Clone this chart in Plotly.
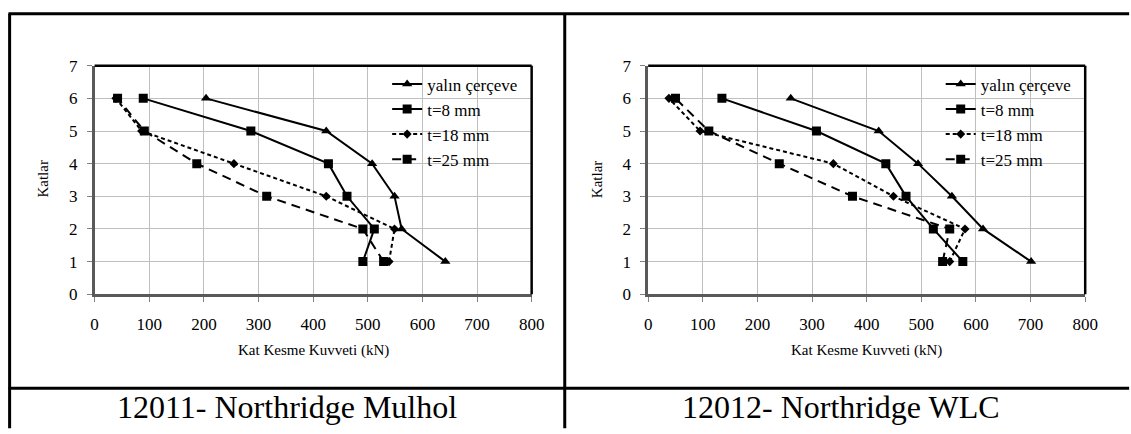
import plotly.graph_objects as go

storeys = [1, 2, 3, 4, 5, 6]
series_names = ["yalın çerçeve", "t=8 mm", "t=18 mm", "t=25 mm"]

# 12011 - Northridge Mulhol (kN)
mulhol_bare = [642, 562, 549, 508, 424, 204]
mulhol_t8 = [491, 512, 462, 428, 286, 89]
mulhol_t18 = [539, 549, 424, 255, 86, 39]
mulhol_t25 = [529, 491, 315, 187, 91, 42]

# 12012 - Northridge WLC (kN)
wlc_bare = [701, 613, 556, 494, 422, 261]
wlc_t8 = [576, 522, 472, 435, 308, 135]
wlc_t18 = [552, 580, 449, 339, 95, 38]
wlc_t25 = [539, 552, 374, 240, 111, 50]

captions = ["12011- Northridge Mulhol", "12012- Northridge WLC"]
x_title = "Kat Kesme Kuvveti (kN)"
y_title = "Katlar"
x_ticks = [0, 100, 200, 300, 400, 500, 600, 700, 800]
y_ticks = [0, 1, 2, 3, 4, 5, 6, 7]

W, H = 1131, 434
FONT = "Liberation Serif"

styles = [
    dict(dash="solid", symbol="triangle-up", size=9),
    dict(dash="solid", symbol="square", size=9),
    dict(dash="4px,3px", symbol="diamond", size=7),
    dict(dash="9px,6px", symbol="square", size=9),
]

fig = go.Figure()

panels = [
    ([mulhol_bare, mulhol_t8, mulhol_t18, mulhol_t25], "x", "y", "legend"),
    ([wlc_bare, wlc_t8, wlc_t18, wlc_t25], "x2", "y2", "legend2"),
]
for data, xa, ya, leg in panels:
    for name, vals, st in zip(series_names, data, styles):
        fig.add_trace(go.Scatter(
            x=vals, y=storeys, name=name, mode="lines+markers",
            xaxis=xa, yaxis=ya, legend=leg,
            line=dict(color="black", width=2, dash=st["dash"]),
            marker=dict(color="black", symbol=st["symbol"], size=st["size"], line=dict(width=0)),
        ))

def px_x(p):
    return p / W

def px_y(p):
    return (H - p) / H

y_dom = [px_y(298.3), px_y(59.3)]
x_doms = [[px_x(92), px_x(535.7)], [px_x(654), px_x(1097.7)]]

axis_common = dict(
    showgrid=True, gridcolor="#bfbfbf", gridwidth=1, zeroline=False,
    showline=True, linecolor="#595959", linewidth=2.5,
    ticks="outside", ticklen=5, tickcolor="#808080", tickwidth=1,
    tickfont=dict(family=FONT, size=17, color="black"),
)

layout = dict(
    width=W, height=H, margin=dict(l=0, r=0, t=0, b=0),
    paper_bgcolor="white", plot_bgcolor="white",
    font=dict(family=FONT, color="black"),
)
for i, (xd) in enumerate(x_doms):
    sfx = "" if i == 0 else "2"
    layout["xaxis" + sfx] = dict(axis_common, domain=xd, range=[0, 800], tickvals=x_ticks,
                                 anchor="y" + sfx, ticklabelstandoff=8)
    layout["yaxis" + sfx] = dict(axis_common, domain=y_dom, range=[0, 7], tickvals=y_ticks,
                                 anchor="x" + sfx, ticklabelstandoff=6)

leg_common = dict(
    bgcolor="rgba(0,0,0,0)", borderwidth=0,
    font=dict(family=FONT, size=17, color="black"),
    xanchor="left", yanchor="top", y=px_y(60), tracegroupgap=0,
)
layout["legend"] = dict(leg_common, x=px_x(389))
layout["legend2"] = dict(leg_common, x=px_x(951))
fig.update_layout(**layout)

shapes = []
# plot frames (top/right black)
for i in range(2):
    sfx = "" if i == 0 else "2"
    shapes.append(dict(type="line", xref="x" + sfx + " domain", yref="y" + sfx + " domain",
                       x0=0, x1=1, y0=1, y1=1, line=dict(color="black", width=2.5)))
    shapes.append(dict(type="line", xref="x" + sfx + " domain", yref="y" + sfx + " domain",
                       x0=1, x1=1, y0=0, y1=1, line=dict(color="black", width=2.5)))
# table borders
tb = dict(color="black", width=3)
shapes.append(dict(type="line", xref="paper", yref="paper", x0=px_x(4.5), x1=1.01,
                   y0=px_y(5), y1=px_y(5), line=tb))
shapes.append(dict(type="line", xref="paper", yref="paper", x0=px_x(5.7), x1=px_x(5.7),
                   y0=px_y(5), y1=-0.01, line=tb))
shapes.append(dict(type="line", xref="paper", yref="paper", x0=px_x(569.3), x1=px_x(569.3),
                   y0=px_y(5), y1=-0.01, line=tb))
shapes.append(dict(type="line", xref="paper", yref="paper", x0=px_x(4.5), x1=1.01,
                   y0=px_y(396.7), y1=px_y(396.7), line=tb))
fig.update_layout(shapes=shapes)

annotations = []
centers = [(92 + 535.7) / 2, (654 + 1097.7) / 2]
y_title_x = [40, 602]
cell_centers = [287.5, 850]
for i in range(2):
    annotations.append(dict(text=x_title, xref="paper", yref="paper", x=px_x(centers[i]),
                            y=px_y(357), xanchor="center", yanchor="middle", showarrow=False,
                            font=dict(family=FONT, size=15, color="black")))
    annotations.append(dict(text=y_title, xref="paper", yref="paper", x=px_x(y_title_x[i]),
                            y=px_y(178), xanchor="center", yanchor="middle", showarrow=False,
                            textangle=-90, font=dict(family=FONT, size=15, color="black")))
    annotations.append(dict(text=captions[i], xref="paper", yref="paper", x=px_x(cell_centers[i]),
                            y=px_y(416), xanchor="center", yanchor="middle", showarrow=False,
                            font=dict(family=FONT, size=32, color="black")))
fig.update_layout(annotations=annotations)

fig.write_html("out.html")
